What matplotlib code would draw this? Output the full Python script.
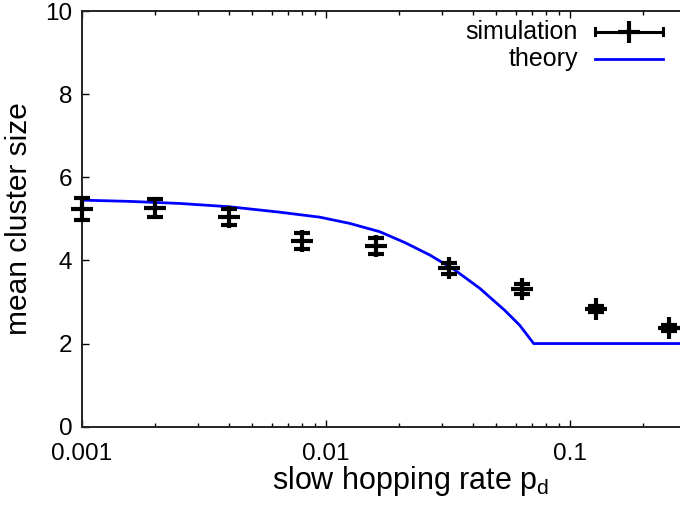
import matplotlib
matplotlib.use("Agg")
import matplotlib.pyplot as plt
from matplotlib.lines import Line2D

plt.rcParams['font.family'] = ['Liberation Sans', 'DejaVu Sans']
plt.rcParams['mathtext.fontset'] = 'custom'
plt.rcParams['mathtext.rm'] = 'Liberation Sans'
plt.rcParams['mathtext.it'] = 'Liberation Sans:italic'

# simulation data
sim_p = [0.001, 0.002, 0.004, 0.008, 0.016, 0.032, 0.064, 0.128, 0.256]
sim_size = [5.24, 5.26, 5.05, 4.47, 4.35, 3.81, 3.31, 2.83, 2.38]
sim_err = [0.26, 0.22, 0.19, 0.20, 0.20, 0.13, 0.12, 0.08, 0.07]

# theory curve
th_p = [0.001, 0.00157, 0.00252, 0.00404, 0.00648, 0.00945, 0.01254,
        0.01665, 0.02108, 0.02669, 0.03379, 0.04277, 0.05415, 0.0624,
        0.0712, 0.3]
th_size = [5.45, 5.42, 5.37, 5.29, 5.16, 5.04, 4.89,
           4.69, 4.43, 4.13, 3.77, 3.33, 2.80, 2.44,
           2.00, 2.00]

y_ticks = [0, 2, 4, 6, 8, 10]
x_ticks = [0.001, 0.01, 0.1]
x_ticklabels = ['0.001', '0.01', '0.1']

W, H = 680, 507
fig = plt.figure(figsize=(W / 100, H / 100), dpi=100)
ax = fig.add_axes([82 / W, (H - 426.7) / H, (686 - 82) / W, (426.7 - 11) / H])

ax.plot(th_p, th_size, color='#0000ff', lw=2.0, zorder=2)
eb = ax.errorbar(sim_p, sim_size, yerr=sim_err, fmt='+', color='black',
                 ms=15.5, mew=3.0, elinewidth=2.6, capsize=6, capthick=2.6,
                 zorder=3)
for art in eb.lines[0:1] + tuple(eb.lines[1]) + tuple(eb.lines[2]):
    art.set_clip_on(False)

ax.set_xscale('log')
ax.set_xlim(0.001, 0.3)
ax.set_ylim(0, 10)
ax.set_yticks(y_ticks)
ax.set_xticks(x_ticks)
ax.set_xticklabels(x_ticklabels)
ax.tick_params(axis='x', which='major', direction='in', length=5,
               width=1.0, labelsize=17.5, top=True, pad=12)
ax.tick_params(axis='y', which='major', direction='in', length=5,
               width=1.0, labelsize=17.5, right=False, pad=7)
ax.tick_params(axis='x', which='minor', direction='in', length=3,
               width=1.0, top=True)
ax.xaxis.set_minor_formatter(matplotlib.ticker.NullFormatter())
for s in ['left', 'bottom', 'top']:
    ax.spines[s].set_linewidth(1.4)
    ax.spines[s].set_color('#222222')
ax.spines['right'].set_visible(False)

ax.set_xlabel('slow hopping rate p$_\\mathrm{d}$', fontsize=22)
ax.xaxis.set_label_coords((411 - 82) / (686 - 82), -0.09)
ax.set_ylabel('mean cluster size', fontsize=21.5, labelpad=9)

# legend (gnuplot style key)
def fx(px):
    return px / W
def fy(py):
    return 1 - py / H

y1, y2 = 31.7, 59.3
fig.text(fx(578), fy(y1), 'simulation', ha='right', va='center', fontsize=18)
fig.text(fx(578), fy(y2), 'theory', ha='right', va='center', fontsize=18)
fig.add_artist(Line2D([fx(595), fx(663)], [fy(y1), fy(y1)], color='black', lw=2.2))
for xc in (595, 663):
    fig.add_artist(Line2D([fx(xc), fx(xc)], [fy(y1 - 3.5), fy(y1 + 3.5)], color='black', lw=2.2))
fig.add_artist(Line2D([fx(629)], [fy(y1)], marker='+', ms=15.5, mew=3.0, color='black'))
fig.add_artist(Line2D([fx(595), fx(663)], [fy(y2), fy(y2)], color='#0000ff', lw=2.0))

fig.savefig('out.png', dpi=100)
